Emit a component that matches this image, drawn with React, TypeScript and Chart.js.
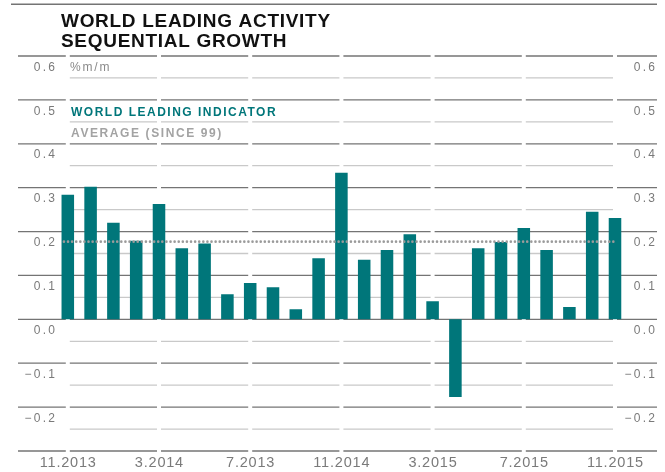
import { useEffect, useRef } from "react";
import { Chart, registerables } from "chart.js";

Chart.register(...registerables);

const categories = [
  "11.2013", "12.2013", "1.2014", "2.2014", "3.2014", "4.2014", "5.2014", "6.2014",
  "7.2014", "8.2014", "9.2014", "10.2014", "11.2014", "12.2014", "1.2015", "2.2015",
  "3.2015", "4.2015", "5.2015", "6.2015", "7.2015", "8.2015", "9.2015", "10.2015", "11.2015",
];
const leadingIndicator = [
  0.284, 0.302, 0.220, 0.179, 0.263, 0.162, 0.173, 0.057, 0.083, 0.073, 0.023, 0.139,
  0.334, 0.136, 0.158, 0.194, 0.041, -0.177, 0.162, 0.176, 0.208, 0.158, 0.028, 0.245, 0.231,
];
const averageSince99 = 0.177;
const xTickLabels = ["11.2013", "3.2014", "7.2013", "11.2014", "3.2015", "7.2015", "11.2015"];
const xTickStep = 4;
const yTickValues = [0.6, 0.5, 0.4, 0.3, 0.2, 0.1, 0.0, -0.1, -0.2];
const yMajorLines = [0.6, 0.5, 0.4, 0.3, 0.2, 0.1, 0.0, -0.1, -0.2, -0.3];
const yMinorLines = [0.55, 0.45, 0.35, 0.25, 0.15, 0.05, -0.05, -0.15, -0.25];

const TEAL = "#00767A";
const MAJOR = "#747474";
const MINOR = "#c9c9c9";
const LABEL = "#7a7a7a";

function fmt(v: number) {
  const s = Math.abs(v).toFixed(1);
  return v < 0 ? "\u2212" + s : s;
}

const decor = {
  id: "decor",
  beforeDatasetsDraw(chart: any) {
    const { ctx, scales } = chart;
    const x = scales.x;
    const y = scales.y;
    const tickPx = xTickLabels.map((_, k) => x.getPixelForValue(k * xTickStep));
    const gap = 2;
    ctx.save();
    ctx.lineWidth = 1.3;
    // minor lines (plot only)
    ctx.strokeStyle = MINOR;
    for (const v of yMinorLines) {
      const py = y.getPixelForValue(v);
      for (let k = 0; k < tickPx.length - 1; k++) {
        ctx.beginPath();
        ctx.moveTo(tickPx[k] + gap, py);
        ctx.lineTo(tickPx[k + 1] - gap, py);
        ctx.stroke();
      }
    }
    // major lines
    ctx.strokeStyle = MAJOR;
    for (const v of yMajorLines) {
      const py = y.getPixelForValue(v);
      const segs: [number, number][] = [[18, tickPx[0] - gap]];
      for (let k = 0; k < tickPx.length - 1; k++) segs.push([tickPx[k] + gap, tickPx[k + 1] - gap]);
      segs.push([tickPx[tickPx.length - 1] + gap, 657]);
      for (const [a, b] of segs) {
        ctx.beginPath();
        ctx.moveTo(a, py);
        ctx.lineTo(b, py);
        ctx.stroke();
      }
    }
    // top rule
    ctx.lineWidth = 1.5;
    ctx.beginPath();
    ctx.moveTo(11, 4.3);
    ctx.lineTo(657, 4.3);
    ctx.stroke();
    ctx.restore();
  },
  afterDraw(chart: any) {
    const { ctx, scales } = chart;
    const x = scales.x;
    const y = scales.y;
    ctx.save();
    ctx.textBaseline = "alphabetic";
    // title
    ctx.fillStyle = "#111";
    ctx.font = "bold 19px 'Liberation Sans', Arial, sans-serif";
    (ctx as any).letterSpacing = "0.7px";
    ctx.textAlign = "left";
    ctx.fillText("WORLD LEADING ACTIVITY", 61, 26.7);
    ctx.fillText("SEQUENTIAL GROWTH", 61, 47);
    // y tick labels
    ctx.font = "12px 'Liberation Sans', Arial, sans-serif";
    const ls = 2.3;
    (ctx as any).letterSpacing = ls + "px";
    ctx.fillStyle = LABEL;
    ctx.textAlign = "right";
    for (const v of yTickValues) {
      const py = y.getPixelForValue(v) + 14.7;
      ctx.fillText(fmt(v), 55 + ls, py);
      ctx.fillText(fmt(v), 655 + ls, py);
    }
    // unit
    ctx.textAlign = "left";
    (ctx as any).letterSpacing = "1.8px";
    ctx.fillStyle = "#8a8a8a";
    ctx.fillText("%m/m", 70, y.getPixelForValue(0.6) + 14.7);
    // legend
    ctx.font = "bold 12px 'Liberation Sans', Arial, sans-serif";
    (ctx as any).letterSpacing = "1.5px";
    ctx.fillStyle = TEAL;
    ctx.fillText("WORLD LEADING INDICATOR", 71, 115.7);
    ctx.fillStyle = "#a3a3a3";
    (ctx as any).letterSpacing = "1.6px";
    ctx.fillText("AVERAGE (SINCE 99)", 71, 137.3);
    // x tick labels
    ctx.font = "14.5px 'Liberation Sans', Arial, sans-serif";
    (ctx as any).letterSpacing = "0.8px";
    ctx.fillStyle = LABEL;
    ctx.textAlign = "center";
    xTickLabels.forEach((lab, k) => {
      ctx.fillText(lab, x.getPixelForValue(k * xTickStep) + 0.4, 467);
    });
    ctx.restore();
  },
};

export default function App() {
  const ref = useRef<HTMLCanvasElement | null>(null);
  useEffect(() => {
    if (!ref.current) return;
    const chart = new Chart(ref.current, {
      type: "bar",
      data: {
        datasets: [
          {
            type: "line",
            label: "AVERAGE (SINCE 99)",
            data: [
              { x: -0.17, y: averageSince99 },
              { x: categories.length - 1, y: averageSince99 },
            ],
            borderColor: "#9b9b9b",
            borderWidth: 2.6,
            borderDash: [0, 4.1],
            borderCapStyle: "round",
            pointRadius: 0,
            order: 0,
          } as any,
          {
            type: "bar",
            label: "WORLD LEADING INDICATOR",
            data: leadingIndicator.map((v, i) => ({ x: i, y: v })),
            backgroundColor: TEAL,
            borderWidth: 0,
            barPercentage: 0.55,
            categoryPercentage: 1,
            order: 1,
          } as any,
        ],
      },
      options: {
        responsive: false,
        animation: false,
        devicePixelRatio: 1,
        layout: { padding: { left: 56.4, right: 38.6, top: 56, bottom: 21 } },
        plugins: { legend: { display: false }, tooltip: { enabled: false }, title: { display: false } },
        scales: {
          x: { type: "linear", display: false, min: -0.5, max: categories.length - 0.5, offset: false },
          y: { type: "linear", display: false, min: -0.3, max: 0.6 },
        },
      },
      plugins: [decor],
    });
    return () => chart.destroy();
  }, []);
  return (
    <div style={{ position: "absolute", left: 0, top: 0, width: 665, height: 472, background: "#fff" }}>
      <canvas ref={ref} width={665} height={472} style={{ display: "block" }} />
    </div>
  );
}
